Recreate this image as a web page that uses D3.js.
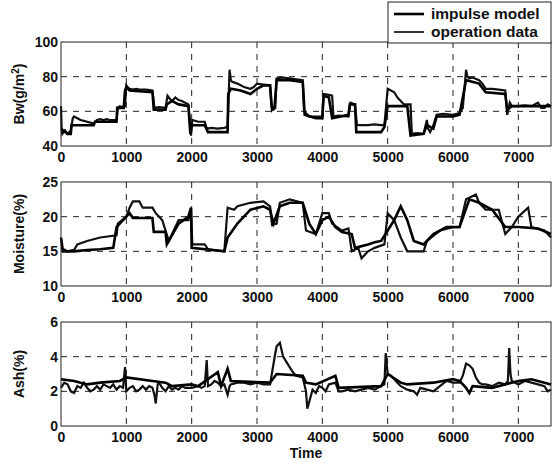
<!DOCTYPE html>
<html>
<head>
<meta charset="utf-8">
<script src="https://cdn.jsdelivr.net/npm/d3@7"></script>
<style>
  body { margin: 0; background: #fff; }
  text { font-family: "Liberation Sans", Arial, sans-serif; font-weight: bold; fill: #111; }
</style>
</head>
<body>
<div id="chart"></div>
<script>
// time ticks shared by all three panels
var timeTicks = [0, 1000, 2000, 3000, 4000, 5000, 6000, 7000];
var legendNames = ["impulse model", "operation data"];

// basis weight, g/m2  [time, value]
var bwModel = [[0,50],[100,47],[150,47],[160,52],[500,52],[520,54],[850,54],[860,62],[960,62],[980,72],[1000,74],[1050,72],[1400,71],[1420,61],[1600,61],[1620,64],[1700,66],[1800,64],[1950,63],[1980,47],[2000,52],[2200,52],[2250,48],[2550,48],[2560,70],[2600,73],[2750,72],[2900,70],[3000,73],[3100,75],[3200,75],[3230,61],[3270,63],[3300,78],[3500,78],[3700,77],[3730,58],[3900,56],[4000,56],[4020,69],[4100,68],[4150,56],[4400,58],[4420,64],[4500,64],[4520,48],[4900,48],[4950,51],[5000,63],[5100,63],[5300,63],[5350,46],[5550,47],[5600,52],[5700,50],[5750,57],[6000,57],[6100,58],[6200,78],[6400,76],[6500,71],[6800,70],[6830,61],[6900,63],[7500,63]];
var bwData = [[0,63],[10,50],[20,47],[60,49],[100,47],[150,49],[180,56],[200,57],[250,56],[300,55],[350,54.5],[400,54],[450,53.5],[500,53],[550,55],[600,55.5],[650,55],[700,55.5],[750,55],[850,55],[870,62],[900,63],[950,62.5],[980,63],[1000,75],[1020,74],[1050,73],[1100,72.5],[1150,73],[1200,72.5],[1300,72.5],[1400,72],[1430,62],[1500,62.5],[1600,62],[1630,69],[1670,67],[1700,66],[1750,68],[1800,66.5],[1850,66],[1900,65],[1950,64],[1990,46],[2010,55],[2100,54],[2200,54],[2230,50],[2300,50.5],[2400,50],[2500,50.5],[2550,51],[2580,84],[2600,78],[2620,77],[2700,76],[2800,74],[2900,73],[2950,74],[3000,76],[3100,75.5],[3200,75],[3220,63],[3250,61],[3280,62],[3300,79],[3400,79.5],[3500,79],[3600,78.5],[3700,78],[3720,60],[3800,57],[3900,57],[4000,57],[4020,70],[4100,69.5],[4150,69],[4170,57],[4250,57.5],[4400,57],[4430,65],[4500,64],[4530,52],[4700,52],[4800,52.5],[4900,52],[4950,52],[5000,73],[5050,72],[5100,71],[5150,68],[5250,64],[5350,64],[5370,47],[5450,47.5],[5550,47],[5600,55],[5620,50],[5650,48],[5700,52],[5750,58],[5850,58.5],[6000,58],[6100,59],[6150,62],[6200,84],[6220,80],[6250,79],[6300,79.5],[6400,78],[6450,76],[6500,73],[6600,73],[6700,72.5],[6800,72],[6830,58],[6870,65],[6900,63],[7000,63],[7100,63.5],[7200,63],[7250,64],[7300,65],[7350,62],[7400,62],[7450,64],[7500,63]];

// moisture, %
var moistModel = [[0,17],[30,15],[200,15],[400,15.2],[600,15.3],[800,15.5],[850,18.5],[950,19.5],[1000,20],[1050,20.5],[1100,19.8],[1400,19.8],[1420,17.8],[1600,17.8],[1620,16],[1800,19],[1950,20],[1990,21.3],[2000,15.5],[2500,15],[2550,17],[2700,19],[2900,21],[3100,21.5],[3200,21],[3250,19],[3350,21.5],[3500,22],[3700,22],[3800,19],[3900,17.5],[4000,19.5],[4100,20],[4200,18.5],[4300,17.8],[4450,17.5],[4500,15.5],[4700,16],[4800,16.3],[4900,16.5],[5100,19.5],[5200,21.5],[5300,19.5],[5400,16.5],[5550,16],[5700,17.5],[5900,18.5],[6100,18.5],[6250,22.5],[6400,22],[6600,21],[6800,18.5],[7000,18.5],[7300,18.3],[7500,17.5]];
var moistData = [[0,15.5],[100,15],[200,15.2],[250,16],[400,16.5],[600,17],[850,17.3],[870,19],[1000,20],[1050,21.3],[1100,22.2],[1200,22.2],[1250,21.3],[1400,21.3],[1450,20.5],[1550,19.5],[1600,18],[1650,16.5],[1800,19.5],[1950,19.5],[1990,21],[2010,16],[2200,16],[2250,15.3],[2500,15],[2550,21.3],[2650,21],[2700,21.5],[2900,22],[3100,22.2],[3200,21.5],[3230,18.8],[3300,19],[3350,22],[3500,22.5],[3700,22],[3750,18],[3900,17.5],[4000,20.5],[4100,20.5],[4150,19],[4300,18],[4400,18.3],[4450,15],[4550,15.5],[4600,14],[4700,15],[4800,15.5],[4950,16],[5000,20.5],[5100,19.5],[5200,17],[5300,15],[5550,15],[5600,16.5],[5800,18],[6000,18.5],[6100,18.5],[6200,22.5],[6350,23.2],[6400,22],[6500,21],[6700,21],[6800,17.5],[6900,18.5],[7000,20],[7150,21.3],[7200,18.5],[7400,18],[7500,17]];

// ash, %
var ashModel = [[0,2.7],[200,2.6],[400,2.4],[600,2.5],[900,2.6],[1000,2.8],[1400,2.6],[1600,2.5],[1700,2.3],[2000,2.4],[2100,2.3],[2400,3.1],[2450,2.3],[2550,3.3],[2600,2.6],[3200,2.5],[3300,3.0],[3700,2.9],[3750,2.5],[3900,2.4],[4200,2.9],[4250,2.2],[4900,2.3],[5000,3.0],[5200,2.5],[5300,2.4],[5700,2.5],[6000,2.7],[6100,2.6],[6200,2.2],[6250,1.9],[6300,2.3],[6600,2.2],[7000,2.6],[7200,2.7],[7400,2.5],[7500,2.4]];
var ashData = [[0,2.2],[50,2.5],[100,2.4],[150,2.0],[200,1.9],[250,2.3],[300,2.2],[350,2.5],[400,2.2],[450,2.0],[500,2.1],[550,2.3],[600,2.1],[650,2.4],[700,2.3],[750,2.2],[800,2.4],[850,2.1],[900,2.3],[950,2.2],[980,3.4],[1000,2.0],[1050,2.2],[1100,2.3],[1150,2.0],[1200,2.1],[1250,2.3],[1300,2.1],[1350,2.3],[1400,2.2],[1430,1.8],[1450,1.3],[1480,2.4],[1500,2.5],[1550,2.2],[1600,2.0],[1650,2.3],[1700,2.1],[1750,2.2],[1800,2.1],[1850,2.3],[1900,2.2],[2000,2.2],[2100,2.3],[2150,2.2],[2200,2.3],[2230,3.8],[2250,2.3],[2300,2.4],[2350,2.6],[2400,2.5],[2450,2.3],[2500,2.4],[2550,1.8],[2580,2.3],[2600,2.4],[2700,2.5],[2800,2.5],[2900,2.4],[3000,2.5],[3100,2.4],[3200,2.4],[3280,4.2],[3300,4.6],[3350,4.8],[3400,4.0],[3450,3.7],[3500,3.4],[3550,3.1],[3600,2.9],[3700,2.8],[3750,2.0],[3770,1.0],[3800,1.4],[3850,2.1],[3900,1.9],[3950,2.3],[4000,2.2],[4050,2.0],[4100,2.4],[4200,2.5],[4250,2.0],[4300,2.0],[4400,2.1],[4500,2.0],[4600,2.1],[4700,2.2],[4800,2.1],[4900,2.3],[4950,2.4],[4970,4.2],[5000,3.0],[5050,2.9],[5100,2.7],[5150,2.5],[5200,2.3],[5300,2.1],[5400,2.0],[5450,1.8],[5500,2.2],[5600,2.1],[5700,2.0],[5800,2.3],[5900,2.6],[6000,2.5],[6100,2.5],[6150,2.9],[6200,3.6],[6250,3.5],[6300,3.3],[6350,2.8],[6400,2.5],[6450,2.4],[6500,2.4],[6600,2.3],[6700,2.5],[6800,2.4],[6840,2.6],[6860,4.5],[6880,3.0],[6900,2.6],[7000,2.4],[7100,2.6],[7200,2.5],[7300,2.4],[7400,2.3],[7450,2.0],[7500,2.1]];

var bwTicks = [40, 60, 80, 100];
var moistTicks = [10, 15, 20, 25];
var ashTicks = [0, 2, 4, 6];

var W = 554, H = 462;
var left = 61, right = 551, plotH = 104;
var panels = [
  {top: 42,  ticks: bwTicks,    model: bwModel,    data: bwData,    label: "Bw(g/m", sup: "2", tail: ")"},
  {top: 182, ticks: moistTicks, model: moistModel, data: moistData, label: "Moisture(%)"},
  {top: 322, ticks: ashTicks,   model: ashModel,   data: ashData,   label: "Ash(%)"}
];

var svg = d3.select("#chart").append("svg")
  .attr("width", W).attr("height", H);

var x = d3.scaleLinear().domain([0, 7500]).range([left, right]);

panels.forEach(function(p) {
  var y = d3.scaleLinear()
    .domain([p.ticks[0], p.ticks[p.ticks.length - 1]])
    .range([p.top + plotH, p.top]);
  var g = svg.append("g");

  // dashed grid
  g.selectAll(".vg").data(timeTicks.slice(1)).enter().append("line")
    .attr("x1", d => x(d)).attr("x2", d => x(d))
    .attr("y1", p.top).attr("y2", p.top + plotH)
    .attr("stroke", "#222").attr("stroke-width", 1).attr("stroke-dasharray", "6,6");
  g.selectAll(".hg").data(p.ticks.slice(1, -1)).enter().append("line")
    .attr("x1", left).attr("x2", right)
    .attr("y1", d => y(d)).attr("y2", d => y(d))
    .attr("stroke", "#222").attr("stroke-width", 1).attr("stroke-dasharray", "6,6");

  // lines
  var line = d3.line().x(d => x(d[0])).y(d => y(d[1]));
  g.append("path").datum(p.data).attr("d", line)
    .attr("fill", "none").attr("stroke", "#111").attr("stroke-width", 2.2);
  g.append("path").datum(p.model).attr("d", line)
    .attr("fill", "none").attr("stroke", "#000").attr("stroke-width", 2.6);

  // axes box
  g.append("rect").attr("x", left).attr("y", p.top)
    .attr("width", right - left).attr("height", plotH)
    .attr("fill", "none").attr("stroke", "#222").attr("stroke-width", 1);

  var xa = g.append("g").attr("transform", "translate(0," + (p.top + plotH) + ")")
    .call(d3.axisBottom(x).tickValues(timeTicks).tickSize(0).tickPadding(6).tickFormat(d3.format("d")));
  var ya = g.append("g").attr("transform", "translate(" + left + ",0)")
    .call(d3.axisLeft(y).tickValues(p.ticks).tickSize(0).tickPadding(3).tickFormat(d3.format("d")));
  [xa, ya].forEach(function(a) {
    a.select(".domain").remove();
    a.selectAll("text").attr("font-size", "14px").attr("font-family", "Liberation Sans, Arial, sans-serif")
      .attr("font-weight", "bold").attr("fill", "#111");
  });

  var lab = g.append("text")
    .attr("transform", "translate(24," + (p.top + plotH / 2) + ") rotate(-90)")
    .attr("text-anchor", "middle").attr("font-size", "14px")
    .text(p.label);
  if (p.sup) {
    lab.append("tspan").attr("baseline-shift", "super").attr("font-size", "10px").text(p.sup);
    lab.append("tspan").text(p.tail);
  }
});

svg.append("text").attr("x", (left + right) / 2).attr("y", 458)
  .attr("text-anchor", "middle").attr("font-size", "14px").text("Time");

// legend
var lg = svg.append("g");
lg.append("rect").attr("x", 388).attr("y", 2).attr("width", 163).attr("height", 41)
  .attr("fill", "#fff").attr("stroke", "#222").attr("stroke-width", 1);
lg.selectAll(".li").data(legendNames).enter().append("line")
  .attr("x1", 394).attr("x2", 424)
  .attr("y1", (d, i) => 14 + i * 18).attr("y2", (d, i) => 14 + i * 18)
  .attr("stroke", "#000").attr("stroke-width", (d, i) => i === 0 ? 2.6 : 1.6);
lg.selectAll(".lt").data(legendNames).enter().append("text")
  .attr("x", 431).attr("y", (d, i) => 19 + i * 18)
  .attr("font-size", "15.5px").text(d => d);
</script>
</body>
</html>
